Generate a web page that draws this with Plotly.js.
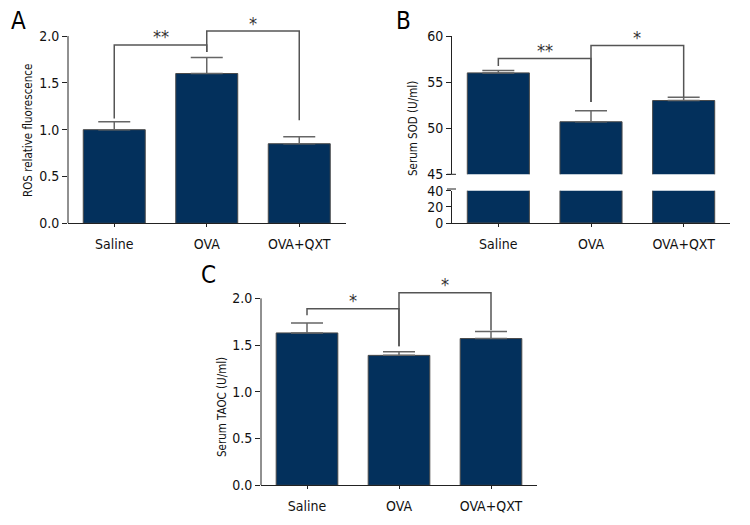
<!DOCTYPE html>
<html>
<head>
<meta charset="utf-8">
<script src="https://cdn.plot.ly/plotly-3.0.1.min.js"></script>
<style>
  html, body { margin: 0; padding: 0; background: #fff; }
  #chart { width: 750px; height: 525px; }
</style>
</head>
<body>
<div id="chart"></div>
<script>
// ---------- data ----------
const categories = ['Saline', 'OVA', 'OVA+QXT'];

const rosMean = [1.0, 1.6, 0.85];
const rosErr  = [0.085, 0.17, 0.075];

const sodMean = [56.0, 50.7, 53.0];
const sodErr  = [0.25, 1.2, 0.35];

const taocMean = [1.63, 1.39, 1.57];
const taocErr  = [0.105, 0.04, 0.075];

// significance brackets: [fromIndex, toIndex, yLeftEnd, yTop, yRightEnd, label]
const rosSig  = [[0, 1, 1.12, 1.905, 1.83, '**'], [1, 2, 1.83, 2.054, 1.10, '*']];
const sodSig  = [[0, 1, 56.74, 57.56, 52.83, '**'], [1, 2, 52.83, 58.96, 53.37, '*']];
const taocSig = [[0, 1, 1.818, 1.889, 1.487, '*'], [1, 2, 1.487, 2.06, 1.658, '*']];

const rosTicks = [0, 0.5, 1.0, 1.5, 2.0];
const sodUpperTicks = [45, 50, 55, 60];
const sodLowerTicks = [0, 20, 40];
const taocTicks = [0, 0.5, 1.0, 1.5, 2.0];

// ---------- style ----------
const FONT = "'Liberation Sans Narrow', 'DejaVu Sans Condensed', 'Roboto Condensed', sans-serif";
const BAR = '#03305c';
const W = 750, H = 525;
const px = v => v / W;
const py = v => 1 - v / H;

function barTrace(y, err, xa, ya) {
  const t = {
    type: 'bar', x: categories, y: y, xaxis: xa, yaxis: ya,
    marker: { color: BAR, line: { color: '#4a4a4a', width: 1 } },
    hoverinfo: 'skip', showlegend: false
  };
  if (err) {
    t.error_y = { type: 'data', symmetric: false, array: err,
                  arrayminus: err.map(() => 0), color: '#666', thickness: 1.5, width: 16 };
  }
  return t;
}

function sigTraces(sig, xa, ya) {
  return sig.map(s => ({
    type: 'scatter', mode: 'lines', xaxis: xa, yaxis: ya,
    x: [categories[s[0]], categories[s[0]], categories[s[1]], categories[s[1]]],
    y: [s[2], s[3], s[3], s[4]],
    line: { color: '#555', width: 1.5 }, hoverinfo: 'skip', showlegend: false
  }));
}
function sigLabels(sig, xa, ya) {
  return sig.map(s => ({
    xref: xa, yref: ya, x: (s[0] + s[1]) / 2, y: s[3], text: s[5],
    showarrow: false, xanchor: 'center', yanchor: 'middle', yshift: 8,
    font: { family: FONT, size: 18, color: '#333' }
  }));
}
function paperText(x, y, text, size, angle) {
  return { xref: 'paper', yref: 'paper', x: px(x), y: py(y), text: text, showarrow: false,
           xanchor: 'center', yanchor: 'middle', textangle: angle || 0,
           font: { family: FONT, size: size, color: angle ? '#111' : '#000' } };
}

const xBase = {
  type: 'category', range: [-0.5, 2.5], showline: true, linecolor: '#222', linewidth: 1,
  ticks: 'outside', ticklen: 3, tickcolor: '#222', showgrid: false, zeroline: false,
  tickfont: { family: FONT, size: 14, color: '#111' }, ticklabelstandoff: 5, fixedrange: true
};
const yBase = {
  showgrid: false, zeroline: false, ticks: 'outside', ticklen: 5, tickcolor: '#222',
  tickfont: { family: FONT, size: 14, color: '#111' }, fixedrange: true, linecolor: '#222', linewidth: 1
};

const data = [
  barTrace(rosMean, rosErr, 'x', 'y'),
  barTrace(sodMean, sodErr, 'x2', 'y2'),
  barTrace(sodMean, null, 'x2', 'y3'),
  barTrace(taocMean, taocErr, 'x3', 'y4'),
  ...sigTraces(rosSig, 'x', 'y'),
  ...sigTraces(sodSig, 'x2', 'y2'),
  ...sigTraces(taocSig, 'x3', 'y4')
];

const layout = {
  width: W, height: H, margin: { l: 0, r: 0, t: 0, b: 0 },
  paper_bgcolor: '#fff', plot_bgcolor: 'rgba(0,0,0,0)',
  bargap: 0.33, showlegend: false,
  font: { family: FONT },
  xaxis: Object.assign({}, xBase, { domain: [px(68), px(345.5)], anchor: 'y' }),
  yaxis: Object.assign({}, yBase, { domain: [py(223.3), py(26.7)], range: [0, 2.1],
    tickvals: rosTicks, ticktext: rosTicks.map(v => v.toFixed(1)), showline: false, anchor: 'x' }),
  xaxis2: Object.assign({}, xBase, { domain: [px(452), px(730)], anchor: 'y3' }),
  yaxis2: Object.assign({}, yBase, { domain: [py(174.3), py(36)], range: [45, 60],
    tickvals: sodUpperTicks, showline: true, anchor: 'x2' }),
  yaxis3: Object.assign({}, yBase, { domain: [py(223), py(190.7)], range: [0, 40],
    tickvals: sodLowerTicks, showline: true, anchor: 'x2' }),
  xaxis3: Object.assign({}, xBase, { domain: [px(261), px(537)], anchor: 'y4' }),
  yaxis4: Object.assign({}, yBase, { domain: [py(485.3), py(289)], range: [0, 2.1],
    tickvals: taocTicks, ticktext: taocTicks.map(v => v.toFixed(1)), showline: false, anchor: 'x3' }),
  shapes: [
    { type: 'line', xref: 'paper', yref: 'y', x0: px(68), x1: px(68), y0: 0, y1: 2.0,
      line: { color: '#222', width: 1 } },
    { type: 'line', xref: 'paper', yref: 'y4', x0: px(261), x1: px(261), y0: 0, y1: 2.0,
      line: { color: '#222', width: 1 } },
    // axis-break marks on panel B
    { type: 'line', xref: 'paper', yref: 'paper', x0: px(447), x1: px(456), y0: py(174.3), y1: py(174.3),
      line: { color: '#222', width: 1 } },
    { type: 'line', xref: 'paper', yref: 'paper', x0: px(447), x1: px(456), y0: py(189), y1: py(189),
      line: { color: '#222', width: 1 } }
  ],
  annotations: [
    ...sigLabels(rosSig, 'x', 'y'),
    ...sigLabels(sodSig, 'x2', 'y2'),
    ...sigLabels(taocSig, 'x3', 'y4'),
    paperText(18, 21, 'A', 24),
    paperText(403, 21, 'B', 24),
    paperText(208, 275, 'C', 24),
    paperText(28, 131, 'ROS relative fluorescence', 11.5, -90),
    paperText(413, 129, 'Serum SOD (U/ml)', 11.5, -90),
    paperText(222, 407, 'Serum TAOC (U/ml)', 11.5, -90)
  ]
};

Plotly.newPlot('chart', data, layout, { staticPlot: true, displayModeBar: false });
</script>
</body>
</html>
